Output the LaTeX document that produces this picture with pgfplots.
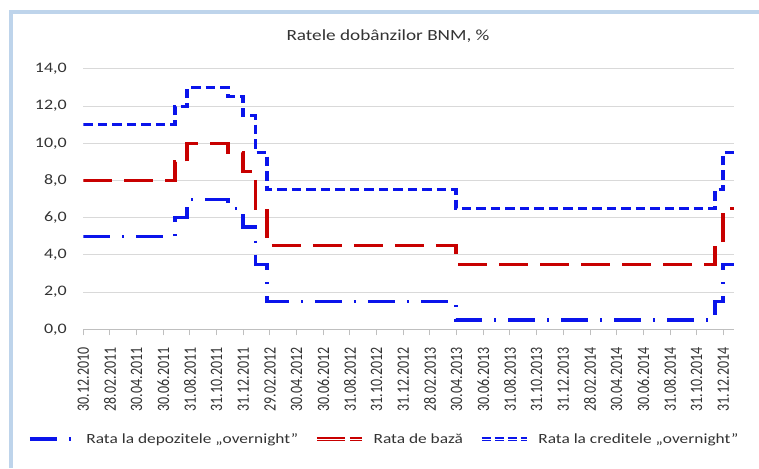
\documentclass[border=0pt]{standalone}
\usepackage{fontspec}
\setmainfont{Carlito}
\newfontfamily\wide[FakeStretch=1.24]{Carlito}
\usepackage{graphicx}
\usepackage{pgfplots}
\pgfplotsset{compat=1.18}
\definecolor{dep}{RGB}{10,20,235}
\definecolor{base}{RGB}{200,0,0}
\definecolor{cred}{RGB}{10,20,235}
\definecolor{gridc}{RGB}{217,217,217}
\definecolor{axc}{RGB}{191,191,191}
\definecolor{framec}{RGB}{190,212,235}
\newcommand{\xl}[1]{\scalebox{1}[1.24]{#1}}
\begin{document}
\begin{tikzpicture}[x=1pt,y=1pt]
\path[use as bounding box] (0,0) rectangle (759,468);
\fill[white] (0,0) rectangle (759,468);
\draw[framec, line width=3.5pt] (11,0) -- (11,456) -- (759,456);
\node[font=\wide\fontsize{15.5}{18}\selectfont, text=black!80] at (388,432) {Ratele dobânzilor BNM, \%};
\begin{axis}[
  at={(83.3pt,138.7pt)}, anchor=origin,
  scale only axis, width=650.7pt, height=260.3pt,
  xmin=0, xmax=48.8, ymin=0, ymax=14,
  axis x line*=bottom, axis y line*=left,
  x axis line style={axc, line width=1pt, -},
  y axis line style={draw=none},
  ytick style={draw=none},
  xtick style={axc, line width=1pt},
  major tick length=6pt, tick align=outside,
  ymajorgrids, grid style={gridc, line width=1pt},
  ytick={0,2,...,14},
  y tick label style={/pgf/number format/fixed, /pgf/number format/fixed zerofill,
    /pgf/number format/precision=1, /pgf/number format/use comma,
    /pgf/number format/assume math mode=true,
    font=\wide\fontsize{14.5}{16}\selectfont, text=black!80, xshift=-7pt},
  xtick={0,2,...,48},
  xticklabels={\xl{30.12.2010},\xl{28.02.2011},\xl{30.04.2011},\xl{30.06.2011},\xl{31.08.2011},\xl{31.10.2011},\xl{31.12.2011},\xl{29.02.2012},\xl{30.04.2012},\xl{30.06.2012},\xl{31.08.2012},\xl{31.10.2012},\xl{31.12.2012},\xl{28.02.2013},\xl{30.04.2013},\xl{30.06.2013},\xl{31.08.2013},\xl{31.10.2013},\xl{31.12.2013},\xl{28.02.2014},\xl{30.04.2014},\xl{30.06.2014},\xl{31.08.2014},\xl{31.10.2014},\xl{31.12.2014}},
  x tick label style={font=\fontsize{14}{16}\selectfont, text=black!80, rotate=90, anchor=east, inner ysep=0pt, inner xsep=12pt},
  legend columns=3,
  legend style={at={(-0.085,-0.4214)}, anchor=west, draw=none, fill=none,
    font=\wide\fontsize{14}{16}\selectfont, text=black!80, inner sep=0pt,
    /tikz/every odd column/.append style={column sep=8pt},
    /tikz/every even column/.append style={column sep=15pt}},
  legend cell align=left,
  legend image code/.code={\draw[#1] (0pt,0pt) -- (45pt,0pt);},
]
% Rata la depozitele overnight
\addplot[const plot, dep, line width=3.2pt, dash pattern=on 27pt off 12pt on 2pt off 12pt]
  coordinates {(0,5) (6.88,6) (7.78,7) (10.85,6.5) (11.98,5.5) (12.92,3.5) (13.78,1.5) (27.95,0.5) (47.38,1.5) (47.98,3.5) (48.8,3.5)};
\addlegendentry{Rata la depozitele „overnight”}
% Rata de baza
\addplot[const plot, base, line width=3.2pt, dash pattern=on 29pt off 12pt,
  legend image code/.code={\draw[base, line width=1.3pt, double=white, double distance=0.9pt, dash pattern=on 28pt off 5pt] (0pt,0pt) -- (45pt,0pt);}]
  coordinates {(0,8) (6.88,9) (7.78,10) (10.85,9.5) (11.98,8.5) (12.92,6.5) (13.78,4.5) (27.95,3.5) (47.38,4.5) (47.98,6.5) (48.8,6.5)};
\addlegendentry{Rata de bază}
% Rata la creditele overnight
\addplot[const plot, cred, line width=3.2pt, dash pattern=on 9.5pt off 5pt,
  legend image code/.code={\draw[cred, line width=1.2pt, double=white, double distance=0.9pt, dash pattern=on 9.5pt off 3.5pt] (0pt,0pt) -- (45pt,0pt);}]
  coordinates {(0,11) (6.88,12) (7.78,13) (10.85,12.5) (11.98,11.5) (12.92,9.5) (13.78,7.5) (27.95,6.5) (47.38,7.5) (47.98,9.5) (48.8,9.5)};
\addlegendentry{Rata la creditele „overnight”}
\end{axis}
\end{tikzpicture}
\end{document}
